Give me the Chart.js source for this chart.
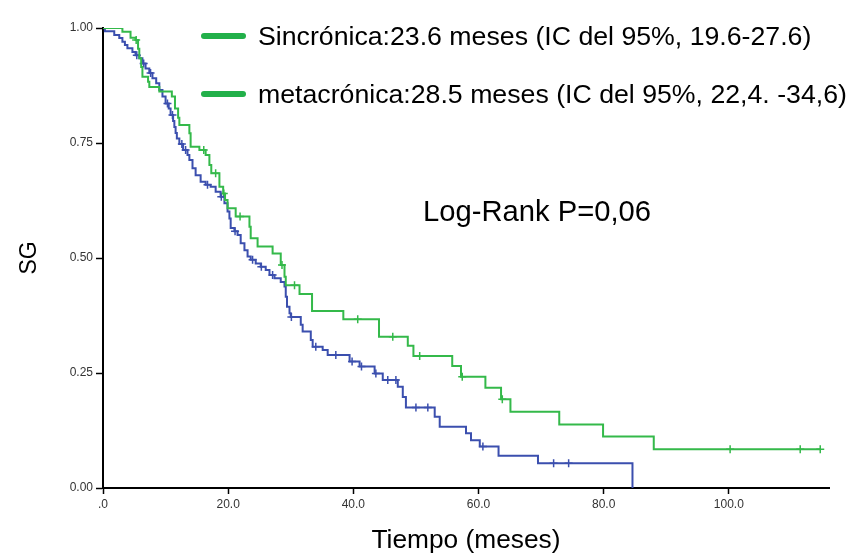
<!DOCTYPE html>
<html lang="es">
<head>
<meta charset="utf-8">
<title>SG - Kaplan-Meier</title>
<script src="https://cdn.jsdelivr.net/npm/chart.js@4.4.1/dist/chart.umd.min.js"></script>
<style>
    html, body { margin: 0; padding: 0; background: #fff; }
    #contenedor { width: 849px; height: 556px; position: relative; }
</style>
</head>
<body>
<div id="contenedor"><canvas id="graficoSG"></canvas></div>
<script>
// Datos (tiempo en meses, supervivencia global)
const tiemposSincronica = [0, 0.3, 1.8, 2.6, 3.1, 3.5, 3.9, 4.7, 5.2, 5.8, 6.3, 6.8, 7.4, 7.9, 8.5, 9.0, 9.5, 10.0, 10.5, 10.8,
    11.2, 11.4, 11.6, 11.8, 12.2, 12.8, 13.5, 13.8, 14.3, 14.8, 15.6, 16.4, 17.2, 18.0, 18.8, 19.4, 19.9, 20.2, 20.4, 21.0,
    21.5, 22.0, 22.6, 23.1, 23.6, 24.4, 25.2, 26.0, 26.6, 27.4, 28.4, 29.0, 29.2, 29.4, 29.8, 30.0, 31.6, 31.9, 33.2, 33.5,
    35.1, 35.9, 39.4, 41.0, 43.4, 44.7, 47.1, 47.9, 48.4, 53.0, 53.8, 58.0, 58.8, 60.2, 63.2, 69.5, 84.6];
const supervivenciaSincronica = [1.0, 0.993, 0.985, 0.978, 0.970, 0.963, 0.956, 0.948, 0.941, 0.934, 0.923, 0.912, 0.902, 0.891, 0.880, 0.865, 0.851, 0.836, 0.825, 0.811,
    0.798, 0.785, 0.772, 0.760, 0.748, 0.735, 0.724, 0.713, 0.695, 0.680, 0.666, 0.659, 0.655, 0.644, 0.633, 0.619, 0.601, 0.586, 0.565, 0.558,
    0.550, 0.532, 0.517, 0.503, 0.496, 0.488, 0.481, 0.474, 0.463, 0.456, 0.448, 0.438, 0.416, 0.394, 0.380, 0.372, 0.355, 0.340, 0.322, 0.307,
    0.300, 0.289, 0.275, 0.264, 0.249, 0.235, 0.220, 0.198, 0.175, 0.155, 0.133, 0.119, 0.104, 0.090, 0.070, 0.054, 0.0];
const censuraSincronica = [5.4, 6.5, 7.6, 10.3, 11.1, 12.6, 13.2, 16.7, 18.9, 21.1, 23.9, 25.3, 27.1, 30.1, 34.0, 37.2, 39.8, 41.3,
    43.6, 45.5, 46.8, 50.0, 51.9, 60.7, 72.0, 74.4];

const tiemposMetacronica = [0, 3.1, 4.4, 5.2, 5.6, 5.8, 6.1, 6.3, 7.2, 7.4, 9.0, 11.0, 11.5, 12.0, 12.2, 13.8, 14.0, 15.4, 16.4, 17.0,
    17.3, 18.6, 19.2, 19.5, 19.9, 21.2, 23.4, 23.6, 24.7, 27.1, 28.4, 29.0, 29.2, 31.4, 33.4, 38.4, 44.1, 48.7, 49.6, 55.8,
    57.2, 61.1, 63.6, 65.1, 72.9, 79.9, 88.0, 114.6];
const supervivenciaMetacronica = [1.0, 0.992, 0.979, 0.974, 0.955, 0.934, 0.915, 0.894, 0.883, 0.872, 0.862, 0.851, 0.825, 0.805, 0.789, 0.771, 0.742, 0.735, 0.724, 0.702,
    0.684, 0.655, 0.640, 0.626, 0.608, 0.590, 0.568, 0.543, 0.525, 0.510, 0.485, 0.459, 0.441, 0.422, 0.385, 0.367, 0.329, 0.309, 0.287, 0.265,
    0.242, 0.218, 0.193, 0.166, 0.138, 0.112, 0.084, 0.084];
const censuraMetacronica = [5.3, 16.1, 18.0, 19.3, 21.9, 28.6, 30.6, 40.7, 46.3, 50.6, 57.4, 63.8, 100.2, 111.4, 114.6];

const ticksX = [0, 20, 40, 60, 80, 100];
const ticksY = [0, 0.25, 0.5, 0.75, 1.0];

const leyendaTextos = [
    'Sincrónica:23.6 meses (IC del 95%, 19.6-27.6)',
    'metacrónica:28.5 meses (IC del 95%, 22,4. -34,6)'
];
const textoLogRank = 'Log-Rank P=0,06';

const AZUL = '#3b4fae';
const VERDE = '#34b94a';
const VERDE_LEYENDA = '#22b04a';
const FUENTE = '"Liberation Sans", Arial, sans-serif';

// Valor de la curva escalonada en el tiempo t
function valorEn(tiempos, surv, t) {
    let v = surv[0];
    for (let i = 0; i < tiempos.length; i++) {
        if (tiempos[i] <= t) v = surv[i];
    }
    return v;
}

function puntos(tiempos, surv) {
    return tiempos.map((t, i) => ({ x: t, y: surv[i] }));
}

function puntosCensura(censuras, tiempos, surv) {
    return censuras.map(t => ({ x: t, y: valorEn(tiempos, surv, t) }));
}

// Leyenda y texto Log-Rank dibujados a mano
const pluginTextos = {
    id: 'textos',
    afterDraw(chart) {
        const ctx = chart.ctx;
        ctx.save();
        leyendaTextos.forEach((texto, i) => {
            const y = 36 + i * 58;
            ctx.strokeStyle = VERDE_LEYENDA;
            ctx.lineWidth = 6;
            ctx.lineCap = 'round';
            ctx.beginPath();
            ctx.moveTo(204, y);
            ctx.lineTo(243, y);
            ctx.stroke();

            ctx.fillStyle = '#000';
            ctx.font = '26.7px ' + FUENTE;
            ctx.textBaseline = 'alphabetic';
            ctx.fillText(texto, 258, y + 9);
        });
        ctx.font = '29.2px ' + FUENTE;
        ctx.fillText(textoLogRank, 423, 221);
        ctx.restore();
    }
};

const ctx = document.getElementById('graficoSG').getContext('2d');
new Chart(ctx, {
    type: 'line',
    data: {
        datasets: [
            {
                label: 'metacrónica',
                data: puntos(tiemposMetacronica, supervivenciaMetacronica),
                stepped: 'before',
                borderColor: VERDE,
                borderWidth: 2,
                pointRadius: 0,
                fill: false
            },
            {
                label: 'Sincrónica',
                data: puntos(tiemposSincronica, supervivenciaSincronica),
                stepped: 'before',
                borderColor: AZUL,
                borderWidth: 2,
                pointRadius: 0,
                fill: false
            },
            {
                label: 'censura metacrónica',
                data: puntosCensura(censuraMetacronica, tiemposMetacronica, supervivenciaMetacronica),
                showLine: false,
                pointStyle: 'cross',
                pointRadius: 4,
                borderColor: VERDE,
                borderWidth: 1.5
            },
            {
                label: 'censura sincrónica',
                data: puntosCensura(censuraSincronica, tiemposSincronica, supervivenciaSincronica),
                showLine: false,
                pointStyle: 'cross',
                pointRadius: 4,
                borderColor: AZUL,
                borderWidth: 1.5
            }
        ]
    },
    options: {
        responsive: true,
        maintainAspectRatio: false,
        animation: false,
        layout: { padding: { top: 28, right: 20, bottom: 0, left: 0 } },
        plugins: {
            legend: { display: false },
            tooltip: { enabled: false }
        },
        scales: {
            x: {
                type: 'linear',
                min: 0,
                max: 116,
                afterFit: s => { s.height = 68; },
                afterBuildTicks: s => { s.ticks = ticksX.map(v => ({ value: v })); },
                ticks: {
                    includeBounds: false,
                    color: '#333',
                    font: { family: FUENTE, size: 12 },
                    padding: 3,
                    maxRotation: 0,
                    callback: v => v === 0 ? '.0' : v.toFixed(1)
                },
                grid: { display: true, drawOnChartArea: false, color: '#000', tickLength: 6, tickWidth: 1.5 },
                border: { display: true, color: '#000', width: 2 },
                title: {
                    display: true,
                    text: 'Tiempo (meses)',
                    color: '#000',
                    font: { family: FUENTE, size: 26.3, lineHeight: 1.15 },
                    padding: { top: 0, bottom: 0 }
                }
            },
            y: {
                type: 'linear',
                min: 0,
                max: 1,
                afterFit: s => { s.width = 103; },
                afterBuildTicks: s => { s.ticks = ticksY.map(v => ({ value: v })); },
                ticks: {
                    color: '#333',
                    font: { family: FUENTE, size: 12 },
                    padding: 3,
                    callback: v => v.toFixed(2)
                },
                grid: { display: true, drawOnChartArea: false, color: '#000', tickLength: 7, tickWidth: 1.5 },
                border: { display: true, color: '#000', width: 2 },
                title: {
                    display: true,
                    text: 'SG',
                    color: '#000',
                    font: { family: FUENTE, size: 23, lineHeight: 1.2 },
                    padding: { top: 16, bottom: 0 }
                }
            }
        }
    },
    plugins: [pluginTextos]
});
</script>
</body>
</html>
